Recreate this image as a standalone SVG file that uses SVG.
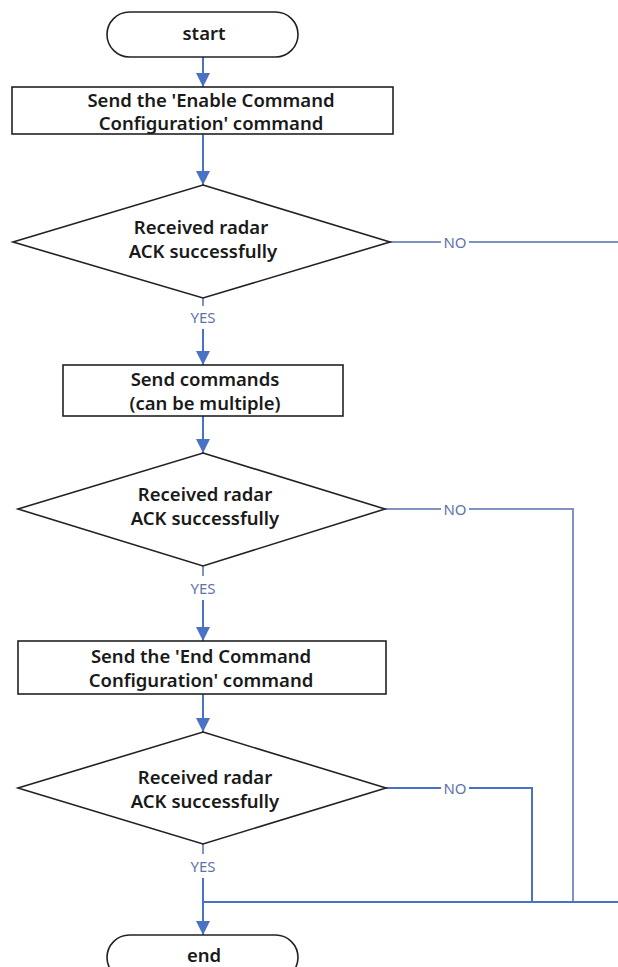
<svg xmlns="http://www.w3.org/2000/svg" width="618" height="967" viewBox="0 0 618 967">
<defs>
<style>
.shape{fill:#fff;stroke:#222;stroke-width:1.6}
.t{font-family:"Noto Sans","Open Sans","Liberation Sans",sans-serif;font-weight:600;font-size:18.5px;fill:#1a1a1a;text-anchor:middle;dominant-baseline:central}
.lbl{font-family:"Noto Sans","Open Sans","Liberation Sans",sans-serif;font-size:15px;fill:#5f74a8;text-anchor:middle;dominant-baseline:central}
.c{fill:none;stroke:#4a72c4;stroke-width:2}
.cn{fill:none;stroke:#7f92c2;stroke-width:2}
</style>
<marker id="ah" viewBox="0 0 10 10" refX="10" refY="5" markerWidth="7" markerHeight="7" markerUnits="strokeWidth" orient="auto">
<path d="M0,0 L10,5 L0,10 z" fill="#4a72c4"/>
</marker>
</defs>
<rect width="618" height="967" fill="#fff"/>

<g id="connectors">
<line class="c" x1="203" y1="57" x2="203" y2="87" marker-end="url(#ah)"/>
<line class="c" x1="203" y1="134" x2="203" y2="185" marker-end="url(#ah)"/>
<line class="cn" x1="390" y1="242" x2="441" y2="242"/>
<line class="cn" x1="469" y1="242" x2="618" y2="242"/>
<line class="cn" x1="203" y1="298" x2="203" y2="306"/>
<line class="c" x1="203" y1="329" x2="203" y2="365" marker-end="url(#ah)"/>
<line class="c" x1="203" y1="416" x2="203" y2="453" marker-end="url(#ah)"/>
<polyline class="cn" points="385,509 441,509"/>
<polyline class="cn" points="469,509 573,509 573,902"/>
<line class="cn" x1="203" y1="566" x2="203" y2="576"/>
<line class="c" x1="203" y1="600" x2="203" y2="641" marker-end="url(#ah)"/>
<line class="c" x1="203" y1="694" x2="203" y2="732" marker-end="url(#ah)"/>
<polyline class="c" points="386,788 441,788"/>
<polyline class="c" points="469,788 532,788 532,902"/>
<line class="cn" x1="203" y1="844" x2="203" y2="854"/>
<line class="c" x1="203" y1="878" x2="203" y2="935" marker-end="url(#ah)"/>
<line class="c" x1="203" y1="902" x2="618" y2="902"/>
<text class="lbl" x="455" y="242">NO</text>
<text class="lbl" x="203" y="317">YES</text>
<text class="lbl" x="455" y="509">NO</text>
<text class="lbl" x="203" y="588">YES</text>
<text class="lbl" x="455" y="788">NO</text>
<text class="lbl" x="203" y="866">YES</text>
</g>

<g id="start">
<rect class="shape" x="107" y="12" width="191" height="45" rx="22.5"/>
<text class="t" x="204" y="32">start</text>
</g>

<g id="send-enable">
<rect class="shape" x="12" y="87" width="381" height="47"/>
<text class="t" x="211" y="99">Send the 'Enable Command</text>
<text class="t" x="211" y="122">Configuration' command</text>
</g>

<g id="check1">
<polygon class="shape" points="203,185 390,242 203,298 13,242"/>
<text class="t" x="201" y="226">Received radar</text>
<text class="t" x="203" y="250">ACK successfully</text>
</g>

<g id="send-commands">
<rect class="shape" x="63" y="365" width="280" height="51"/>
<text class="t" x="205" y="378">Send commands</text>
<text class="t" x="205" y="402">(can be multiple)</text>
</g>

<g id="check2">
<polygon class="shape" points="203,453 385,509 203,566 18,509"/>
<text class="t" x="205" y="493">Received radar</text>
<text class="t" x="205" y="517">ACK successfully</text>
</g>

<g id="send-end">
<rect class="shape" x="18" y="641" width="368" height="53"/>
<text class="t" x="201" y="655">Send the 'End Command</text>
<text class="t" x="201" y="679">Configuration' command</text>
</g>

<g id="check3">
<polygon class="shape" points="203,732 386,788 203,844 18,788"/>
<text class="t" x="205" y="776">Received radar</text>
<text class="t" x="205" y="800">ACK successfully</text>
</g>

<g id="end">
<rect class="shape" x="107" y="935" width="191" height="45" rx="22.5"/>
<text class="t" x="204" y="954">end</text>
</g>
</svg>
